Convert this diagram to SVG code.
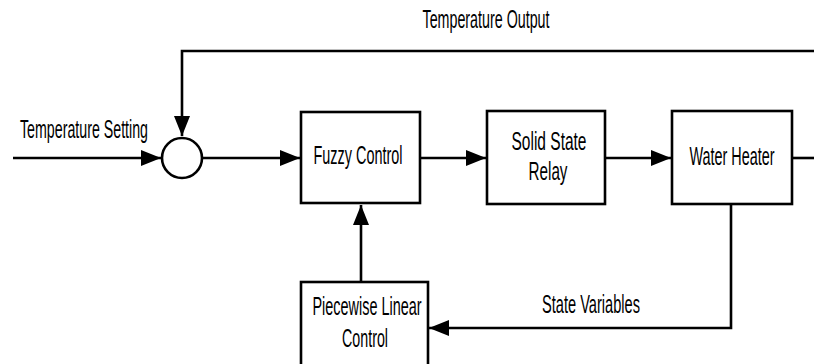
<svg xmlns="http://www.w3.org/2000/svg" width="814" height="364" viewBox="0 0 814 364">
<style>
.box{fill:#fff;stroke:#000;stroke-width:2.6}
.ln{fill:none;stroke:#000;stroke-width:2.6}
text{font-family:"Liberation Sans Narrow","Liberation Sans",Arial,sans-serif;font-size:25px;fill:#000;text-anchor:middle}
</style>
<defs>
<marker id="ah" markerUnits="userSpaceOnUse" markerWidth="20" markerHeight="16" viewBox="0 0 20 16" refX="20" refY="8" orient="auto">
<path d="M0,0 L20,8 L0,16 Z" fill="#000"/>
</marker>
</defs>
<rect width="814" height="364" fill="#fff"/>
<g id="connectors">
<path class="ln" d="M814,51 H182 V136" marker-end="url(#ah)"/>
<path class="ln" d="M13,158 H161" marker-end="url(#ah)"/>
<path class="ln" d="M203,158 H300" marker-end="url(#ah)"/>
<path class="ln" d="M421,158 H486" marker-end="url(#ah)"/>
<path class="ln" d="M606,158 H671" marker-end="url(#ah)"/>
<path class="ln" d="M792,158 H814"/>
<path class="ln" d="M731,205 V328 H429" marker-end="url(#ah)"/>
<path class="ln" d="M361,282 V205" marker-end="url(#ah)"/>
</g>
<g id="labels">
<text x="486" y="28" textLength="127" lengthAdjust="spacingAndGlyphs">Temperature Output</text>
<text x="84" y="138" textLength="128" lengthAdjust="spacingAndGlyphs">Temperature Setting</text>
<text x="591" y="313" textLength="98" lengthAdjust="spacingAndGlyphs">State Variables</text>
</g>
<g id="sum">
<circle cx="182" cy="158" r="20" class="box"/>
</g>
<g id="fuzzy">
<rect class="box" x="301" y="112" width="119" height="91"/>
<text x="358" y="164" textLength="89" lengthAdjust="spacingAndGlyphs">Fuzzy Control</text>
</g>
<g id="ssr">
<rect class="box" x="487" y="111" width="118" height="93"/>
<text x="549" y="150" textLength="75" lengthAdjust="spacingAndGlyphs">Solid State</text>
<text x="548" y="180" textLength="39" lengthAdjust="spacingAndGlyphs">Relay</text>
</g>
<g id="heater">
<rect class="box" x="672" y="111" width="120" height="93"/>
<text x="732" y="165" textLength="85" lengthAdjust="spacingAndGlyphs">Water Heater</text>
</g>
<g id="piecewise">
<rect class="box" x="301" y="282" width="127" height="95"/>
<text x="367" y="315" textLength="109" lengthAdjust="spacingAndGlyphs">Piecewise Linear</text>
<text x="365" y="347" textLength="46" lengthAdjust="spacingAndGlyphs">Control</text>
</g>
</svg>
